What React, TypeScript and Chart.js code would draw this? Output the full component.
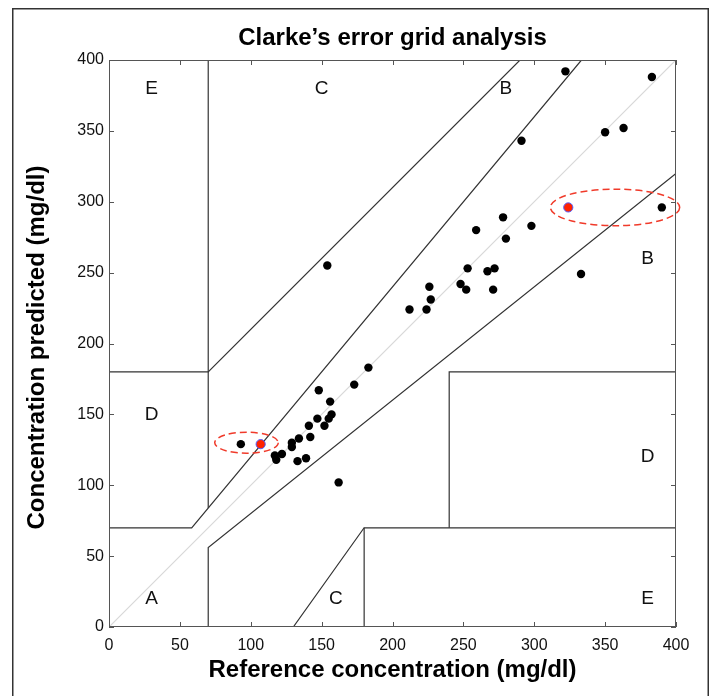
import React, { useEffect, useRef } from 'react';
import { Chart, registerables } from 'chart.js';

Chart.register(...registerables);

// ---- Data ----
const refValues = [322, 383, 291, 350, 363, 390, 278, 259, 298, 280, 333, 253, 267, 272, 226, 248, 252, 271, 227, 212, 224, 154, 93, 183, 173, 148, 156, 157, 155, 147, 141, 152, 134, 142, 129, 129, 122, 117, 118, 133, 139, 162];
const predValues = [392, 388, 343, 349, 352, 296, 289, 280, 283, 274, 249, 253, 251, 253, 240, 242, 238, 238, 231, 224, 224, 255, 129, 183, 171, 167, 159, 150, 147, 147, 142, 142, 133, 134, 130, 127, 122, 121, 118, 117, 119, 102];

const highlightRef = [107, 324];
const highlightPred = [129, 296];

const ellipseCx = [97, 357];
const ellipseCy = [130, 296];
const ellipseRx = [22.4, 45.6];
const ellipseRy = [7.4, 12.9];

const axisTicks = [0, 50, 100, 150, 200, 250, 300, 350, 400];

// zone boundary polylines
const zoneX = [
  [0, 175 / 3, 400 / 1.2],
  [70, 70],
  [0, 70, 290],
  [70, 70, 400],
  [130, 180, 400],
  [180, 180],
  [240, 240, 400],
];
const zoneY = [
  [70, 70, 400],
  [84, 400],
  [180, 180, 400],
  [0, 56, 320],
  [0, 70, 70],
  [0, 70],
  [70, 180, 180],
];
const diagX = [0, 400];
const diagY = [0, 400];

const zoneLabels = ['A', 'D', 'E', 'C', 'C', 'E', 'D', 'B', 'B'];
const zoneLabelX = [30, 30, 30, 150, 160, 380, 380, 380, 280];
const zoneLabelY = [20, 150, 380, 380, 20, 20, 120, 260, 380];

const chartTitle = 'Clarke\u2019s error grid analysis';
const xTitle = 'Reference concentration (mg/dl)';
const yTitle = 'Concentration predicted (mg/dl)';

const FONT = '"Liberation Sans", Arial, Helvetica, sans-serif';

const decor = {
  id: 'decor',
  beforeDraw(chart: any) {
    const { ctx, width, height } = chart;
    ctx.save();
    ctx.fillStyle = '#fff';
    ctx.fillRect(0, 0, width, height);
    ctx.restore();
  },
  afterDatasetsDraw(chart: any) {
    const { ctx, scales } = chart;
    const xs = scales.x;
    const ys = scales.y;
    ctx.save();
    // ellipses
    ctx.strokeStyle = '#f03a2a';
    ctx.lineWidth = 1.5;
    ctx.setLineDash([7, 4]);
    for (let i = 0; i < ellipseCx.length; i++) {
      const cx = xs.getPixelForValue(ellipseCx[i]);
      const cy = ys.getPixelForValue(ellipseCy[i]);
      const rx = Math.abs(xs.getPixelForValue(ellipseCx[i] + ellipseRx[i]) - cx);
      const ry = Math.abs(ys.getPixelForValue(ellipseCy[i] + ellipseRy[i]) - cy);
      ctx.beginPath();
      ctx.ellipse(cx, cy, rx, ry, 0, 0, Math.PI * 2);
      ctx.stroke();
    }
    ctx.setLineDash([]);
    // zone labels
    ctx.fillStyle = '#111';
    ctx.font = '19px ' + FONT;
    ctx.textAlign = 'center';
    ctx.textBaseline = 'middle';
    for (let i = 0; i < zoneLabels.length; i++) {
      ctx.fillText(zoneLabels[i], xs.getPixelForValue(zoneLabelX[i]), ys.getPixelForValue(zoneLabelY[i]));
    }
    ctx.restore();
  },
  afterDraw(chart: any) {
    const { ctx, chartArea: ca, scales } = chart;
    const xs = scales.x;
    const ys = scales.y;
    ctx.save();
    // axes box
    ctx.strokeStyle = '#555';
    ctx.lineWidth = 1;
    ctx.strokeRect(ca.left + 0.5, ca.top + 0.5, ca.right - ca.left - 1, ca.bottom - ca.top - 1);
    // inside ticks
    const tl = 5;
    ctx.beginPath();
    for (const v of axisTicks) {
      const px = Math.round(xs.getPixelForValue(v)) + 0.5;
      ctx.moveTo(px, ca.bottom);
      ctx.lineTo(px, ca.bottom - tl);
      ctx.moveTo(px, ca.top);
      ctx.lineTo(px, ca.top + tl);
      const py = Math.round(ys.getPixelForValue(v)) + 0.5;
      ctx.moveTo(ca.left, py);
      ctx.lineTo(ca.left + tl, py);
      ctx.moveTo(ca.right, py);
      ctx.lineTo(ca.right - tl, py);
    }
    ctx.stroke();
    // titles
    ctx.fillStyle = '#000';
    ctx.textAlign = 'center';
    ctx.textBaseline = 'middle';
    ctx.font = 'bold 24px ' + FONT;
    const cxm = (ca.left + ca.right) / 2;
    ctx.fillText(chartTitle, cxm, 38);
    ctx.fillText(xTitle, cxm, 670);
    ctx.save();
    ctx.translate(37, (ca.top + ca.bottom) / 2 + 4);
    ctx.rotate(-Math.PI / 2);
    ctx.fillText(yTitle, 0, 0);
    ctx.restore();
    // outer frame
    ctx.strokeStyle = '#333';
    ctx.lineWidth = 1.5;
    ctx.strokeRect(12.75, 8.75, 695.5, 700);
    ctx.restore();
  },
};

export default function App() {
  const canvasRef = useRef<HTMLCanvasElement | null>(null);

  useEffect(() => {
    const canvas = canvasRef.current;
    if (!canvas) return;

    const lineDatasets = zoneX.map((xsArr, i) => ({
      type: 'scatter' as const,
      data: xsArr.map((x, j) => ({ x, y: zoneY[i][j] })),
      showLine: true,
      pointRadius: 0,
      borderColor: '#333',
      borderWidth: 1.2,
      fill: false,
      order: 3,
    }));

    const chart = new Chart(canvas, {
      type: 'scatter',
      data: {
        datasets: [
          {
            data: diagX.map((x, j) => ({ x, y: diagY[j] })),
            showLine: true,
            pointRadius: 0,
            borderColor: '#d8d8d8',
            borderWidth: 1.2,
            fill: false,
            order: 4,
          } as any,
          ...lineDatasets,
          {
            data: refValues.map((x, i) => ({ x, y: predValues[i] })),
            pointRadius: 4.2,
            pointBackgroundColor: '#000',
            pointBorderWidth: 0,
            borderColor: '#000',
            order: 1,
          },
          {
            data: highlightRef.map((x, i) => ({ x, y: highlightPred[i] })),
            pointRadius: 4.6,
            pointBackgroundColor: '#ff2200',
            pointBorderColor: '#5060ff',
            pointBorderWidth: 1,
            order: 0,
          },
        ],
      },
      options: {
        responsive: false,
        maintainAspectRatio: false,
        animation: false,
        devicePixelRatio: 1,
        events: [],
        layout: { padding: { top: 60, right: 35, left: 0, bottom: 0 } },
        plugins: {
          legend: { display: false },
          tooltip: { enabled: false },
          title: { display: false },
        },
        scales: {
          x: {
            type: 'linear',
            min: 0,
            max: 400,
            ticks: {
              stepSize: 50,
              color: '#111',
              font: { size: 16, family: FONT },
              padding: 9,
              maxRotation: 0,
            },
            grid: { display: false, drawTicks: false },
            border: { display: false },
            afterFit: (s: any) => {
              s.height = 69;
            },
          },
          y: {
            type: 'linear',
            min: 0,
            max: 400,
            ticks: {
              stepSize: 50,
              color: '#111',
              font: { size: 16, family: FONT },
              padding: 5,
            },
            grid: { display: false, drawTicks: false },
            border: { display: false },
            afterFit: (s: any) => {
              s.width = 109;
            },
          },
        },
      },
      plugins: [decor],
    } as any);

    return () => chart.destroy();
  }, []);

  return (
    <div style={{ position: 'fixed', left: 0, top: 0, width: 711, height: 696, background: '#fff' }}>
      <canvas ref={canvasRef} width={711} height={696} style={{ display: 'block', width: 711, height: 696 }} />
    </div>
  );
}
